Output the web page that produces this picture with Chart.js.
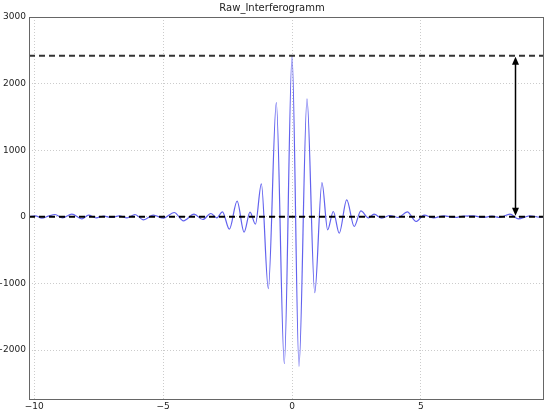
<!DOCTYPE html>
<html>
<head>
<meta charset="utf-8">
<script src="https://cdn.jsdelivr.net/npm/chart.js@4/dist/chart.umd.min.js"></script>
<style>
  html, body { margin: 0; padding: 0; background: #fff; }
  #wrap { width: 545px; height: 412px; }
</style>
</head>
<body>
<div id="wrap"><canvas id="chart"></canvas></div>
<script>
// extrema of the interferogram
const xVals = [-10.2, -9.95, -9.7, -9.45, -9.19, -8.9, -8.54, -8.15, -7.89, -7.6, -7.3, -7.0, -6.7, -6.4,
  -6.09, -5.76, -5.38, -4.99, -4.57, -4.21, -3.8, -3.46, -3.15, -2.92, -2.7, -2.43, -2.13, -1.86,
  -1.63, -1.42, -1.19, -0.92, -0.61, -0.3, 0, 0.27, 0.58, 0.88, 1.16, 1.38, 1.6, 1.83, 2.12, 2.41,
  2.67, 2.96, 3.18, 3.48, 3.8, 4.12, 4.47, 4.81, 5.12, 5.48, 5.9, 6.3, 6.65, 7.03, 7.4, 7.75, 8.06,
  8.45, 8.77, 9.22, 9.6, 9.77];
const yVals = [0, 15, -20, 10, 35, -15, 40, -30, 25, -15, 10, -10, 15, -15,
  35, -45, 25, -20, 65, -60, 40, -40, 50, -15, 75, -185, 235, -230,
  70, -110, 495, -1080, 1714, -2204, 2420, -2244, 1770, -1140, 515, -195, 80, -245, 255, -145,
  90, -15, 40, -20, 20, -10, 75, -70, 25, -15, 15, -10, 10, 15, -10, 10, -10,
  40, -30, 15, -5, 0];

const xMin = -10.2, xMax = 9.77;
const yMin = -2750, yMax = 3000;
const peakLevel = 2420;
const arrowX = 8.66;
const xTicks = [-10, -5, 0, 5];
const yTicks = [-2000, -1000, 0, 1000, 2000, 3000];

const signal = xVals.map((x, i) => ({ x: x, y: yVals[i] }));
const fmt = v => (v < 0 ? "\u2212" + Math.abs(v) : String(v));

// frame round the axes + double arrow
const extras = {
  id: "extras",
  afterDatasetsDraw(chart) {
    const { ctx, chartArea: a, scales } = chart;
    ctx.save();
    const px = Math.round(scales.x.getPixelForValue(arrowX)) + 0.5;
    const yTop = scales.y.getPixelForValue(peakLevel) + 1;
    const yBot = scales.y.getPixelForValue(0) - 1;
    ctx.strokeStyle = "#000";
    ctx.fillStyle = "#000";
    ctx.lineWidth = 1.5;
    ctx.beginPath();
    ctx.moveTo(px, yTop + 6);
    ctx.lineTo(px, yBot - 6);
    ctx.stroke();
    ctx.beginPath();
    ctx.moveTo(px, yTop);
    ctx.lineTo(px - 3.5, yTop + 8);
    ctx.lineTo(px + 3.5, yTop + 8);
    ctx.closePath();
    ctx.fill();
    ctx.beginPath();
    ctx.moveTo(px, yBot);
    ctx.lineTo(px - 3.5, yBot - 8);
    ctx.lineTo(px + 3.5, yBot - 8);
    ctx.closePath();
    ctx.fill();
    ctx.strokeStyle = "#666";
    ctx.lineWidth = 1;
    ctx.strokeRect(a.left + 0.5, a.top + 0.5, a.right - a.left - 1, a.bottom - a.top - 1);
    ctx.restore();
  }
};

new Chart(document.getElementById("chart").getContext("2d"), {
  type: "line",
  data: {
    datasets: [
      {
        label: "signal",
        data: signal,
        borderColor: "rgba(70,70,235,0.85)",
        borderWidth: 1.2,
        pointRadius: 0,
        cubicInterpolationMode: "monotone",
        order: 2
      },
      {
        label: "peak",
        data: [{ x: xMin, y: peakLevel }, { x: xMax, y: peakLevel }],
        borderColor: "#333",
        borderWidth: 2,
        borderDash: [6, 4],
        pointRadius: 0,
        order: 1
      },
      {
        label: "zero",
        data: [{ x: xMin, y: 0 }, { x: xMax, y: 0 }],
        borderColor: "#000",
        borderWidth: 2,
        borderDash: [6, 4],
        pointRadius: 0,
        order: 1
      }
    ]
  },
  options: {
    responsive: true,
    maintainAspectRatio: false,
    animation: false,
    layout: { padding: { left: 0, right: 1, top: 0, bottom: 0 } },
    plugins: {
      legend: { display: false },
      tooltip: { enabled: false },
      title: {
        display: true,
        text: "Raw_Interferogramm",
        color: "#222",
        font: { family: "DejaVu Sans", size: 10, weight: "normal" },
        padding: { top: 2, bottom: 3 }
      }
    },
    scales: {
      x: {
        type: "linear",
        min: xMin,
        max: xMax,
        afterBuildTicks: s => { s.ticks = xTicks.map(v => ({ value: v })); },
        afterFit: s => { s.height = 12; },
        ticks: { color: "#222", font: { family: "DejaVu Sans", size: 9 }, padding: 1, maxRotation: 0, callback: v => fmt(v) },
        grid: { color: "#ccc", drawTicks: false, tickLength: 0 },
        border: { display: false, dash: [1, 2] }
      },
      y: {
        type: "linear",
        min: yMin,
        max: yMax,
        afterBuildTicks: s => { s.ticks = yTicks.map(v => ({ value: v })); },
        afterFit: s => { s.width = 29; },
        ticks: { color: "#222", font: { family: "DejaVu Sans", size: 9 }, padding: 3, callback: v => fmt(v) },
        grid: { color: "#ccc", drawTicks: false, tickLength: 0 },
        border: { display: false, dash: [1, 2] }
      }
    }
  },
  plugins: [extras]
});
</script>
</body>
</html>
